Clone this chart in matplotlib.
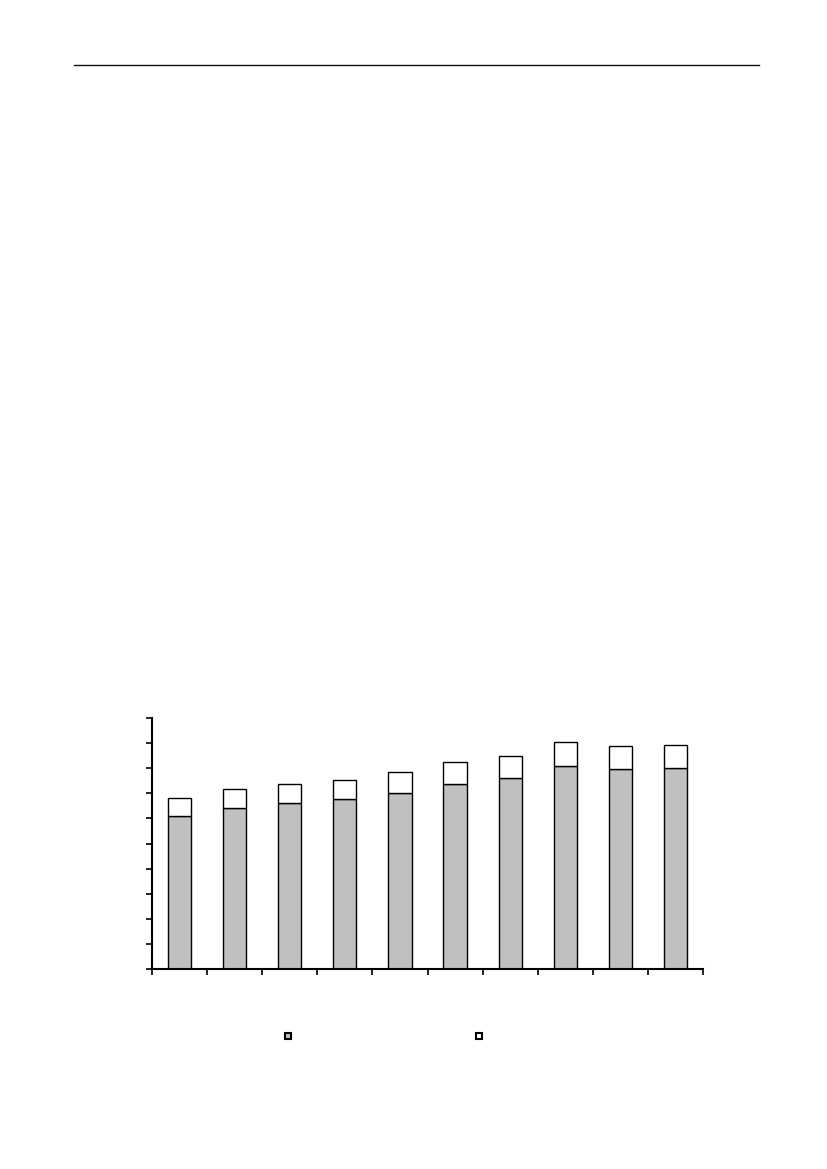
import matplotlib
matplotlib.use("Agg")
import matplotlib.pyplot as plt
from matplotlib.lines import Line2D
import numpy as np

# values (in tick units, 10 ticks on the y axis)
categories = ["1", "2", "3", "4", "5", "6", "7", "8", "9", "10"]
lower = [6.11, 6.42, 6.63, 6.78, 7.02, 7.39, 7.61, 8.07, 7.97, 8.00]
upper = [0.69, 0.74, 0.75, 0.75, 0.81, 0.84, 0.88, 0.96, 0.91, 0.93]

grey = "#C0C0C0"

fig = plt.figure(figsize=(8.27, 11.69), dpi=100)

# page rule at the top
fig.add_artist(Line2D([74 / 827, 759 / 827], [1 - 65 / 1169, 1 - 65 / 1169],
                      color="#111111", lw=1.0))

ax = fig.add_axes([152 / 827, 1 - 969 / 1169, 551 / 827, 251 / 1169])

x = np.arange(len(categories)) + 0.5
ax.bar(x, lower, width=0.42, color=grey, edgecolor="black", linewidth=1.0)
ax.bar(x, upper, width=0.42, bottom=lower, color="white", edgecolor="black", linewidth=1.0)

ax.set_xlim(0, len(categories))
ax.set_ylim(0, 10)
ax.set_xticks(np.arange(len(categories) + 1))
ax.set_yticks(np.arange(11))
ax.set_xticklabels([])
ax.set_yticklabels([])
ax.tick_params(direction="out", length=4, width=1.2, color="black")
for side in ["top", "right"]:
    ax.spines[side].set_visible(False)
for side in ["left", "bottom"]:
    ax.spines[side].set_linewidth(1.5)

# legend markers only, no text
for col, xpos in [(grey, 288), (("white"), 479)]:
    h = Line2D([], [], marker="s", linestyle="none", markersize=5,
               markerfacecolor=col, markeredgecolor="black", markeredgewidth=1.5)
    fig.legend([h], [""], loc="center", bbox_to_anchor=(xpos / 827, 1 - 1037 / 1169),
               frameon=False, handlelength=0.6, handletextpad=0, borderpad=0)

fig.savefig("out.png", dpi=100)
